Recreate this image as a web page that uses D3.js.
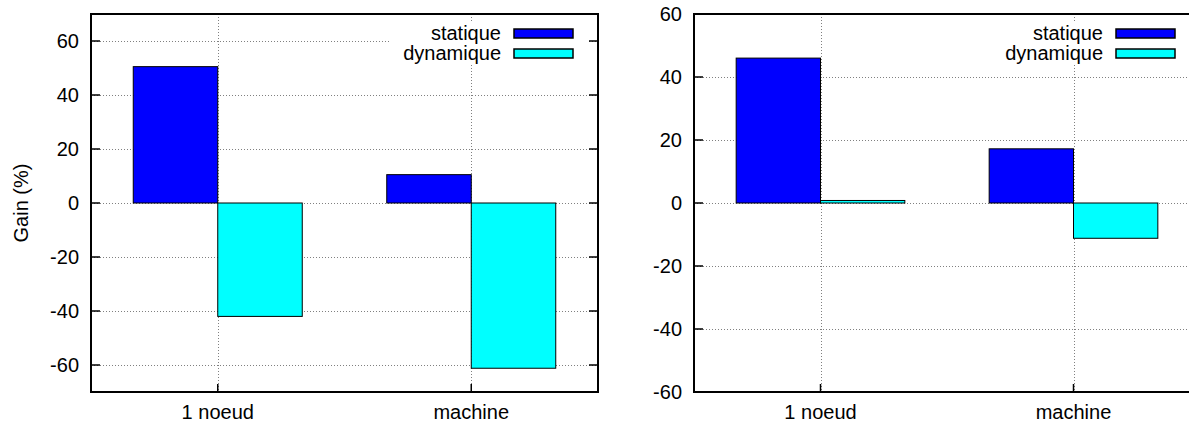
<!DOCTYPE html>
<html>
<head>
<meta charset="utf-8">
<script src="https://cdn.jsdelivr.net/npm/d3@7/dist/d3.min.js"></script>
<style>
  html, body { margin: 0; padding: 0; background: #fff; }
  svg { display: block; font-family: "Liberation Sans", Arial, sans-serif; }
</style>
</head>
<body>
<svg id="chart" width="1189" height="423"></svg>
<script>
const categories = ["1 noeud", "machine"];
const seriesNames = ["statique", "dynamique"];
const seriesColors = ["#0000ff", "#00ffff"];
const leftStatique = [50.5, 10.5];
const leftDynamique = [-42, -61.2];
const rightStatique = [46, 17.2];
const rightDynamique = [0.8, -11.2];
const leftTicks = [-60, -40, -20, 0, 20, 40, 60];
const rightTicks = [-60, -40, -20, 0, 20, 40, 60];

const svg = d3.select("#chart");

function panel(opts) {
  const g = svg.append("g");
  const x = d3.scaleLinear().domain([-0.5, categories.length - 0.5]).range([opts.x0, opts.x1]);
  const y = d3.scaleLinear().domain(opts.domain).range([opts.y1, opts.y0]);
  const bw = 1 / 3;
  const series = [opts.stat, opts.dyn];

  // grid
  const grid = g.append("g").attr("stroke", "#808080").attr("stroke-width", 1).attr("stroke-dasharray", "1,2");
  opts.ticks.forEach(t => {
    if (y(t) > opts.y0 + 1 && y(t) < opts.y1 - 1) {
      grid.append("line").attr("x1", opts.x0).attr("x2", opts.x1)
        .attr("y1", Math.round(y(t)) + 0.5).attr("y2", Math.round(y(t)) + 0.5);
    }
  });
  categories.forEach((c, i) => {
    grid.append("line").attr("x1", Math.round(x(i)) + 0.5).attr("x2", Math.round(x(i)) + 0.5)
      .attr("y1", opts.y0).attr("y2", opts.y1);
  });

  // bars
  series.forEach((vals, s) => {
    g.append("g").selectAll("rect").data(vals).join("rect")
      .attr("x", (d, i) => x(i - bw + s * bw))
      .attr("width", (d, i) => x(i + s * bw) - x(i - bw + s * bw))
      .attr("y", d => y(Math.max(0, d)))
      .attr("height", d => Math.abs(y(d) - y(0)))
      .attr("fill", seriesColors[s])
      .attr("stroke", "#000").attr("stroke-width", 1);
  });

  // ticks
  const tk = g.append("g").attr("stroke", "#000").attr("stroke-width", 1.5);
  opts.ticks.forEach(t => {
    tk.append("line").attr("x1", opts.x0).attr("x2", opts.x0 + 9).attr("y1", y(t)).attr("y2", y(t));
    tk.append("line").attr("x1", opts.x1).attr("x2", opts.x1 - 9).attr("y1", y(t)).attr("y2", y(t));
  });
  categories.forEach((c, i) => {
    tk.append("line").attr("x1", x(i)).attr("x2", x(i)).attr("y1", opts.y1).attr("y2", opts.y1 - 8);
  });

  // frame
  g.append("rect").attr("x", opts.x0).attr("y", opts.y0)
    .attr("width", opts.x1 - opts.x0).attr("height", opts.y1 - opts.y0)
    .attr("fill", "none").attr("stroke", "#000").attr("stroke-width", 2);

  // tick labels
  g.append("g").selectAll("text").data(opts.ticks).join("text")
    .attr("x", opts.x0 - 12).attr("y", d => y(d)).attr("dy", "0.35em")
    .attr("text-anchor", "end").attr("font-size", 20).attr("fill", "#000")
    .text(d => d);
  g.append("g").selectAll("text").data(categories).join("text")
    .attr("x", (d, i) => x(i)).attr("y", 419)
    .attr("text-anchor", "middle").attr("font-size", 20).attr("fill", "#000")
    .text(d => d);

  // legend
  const lg = g.append("g");
  lg.append("rect").attr("x", opts.x1 - 208).attr("y", 23).attr("width", 197).attr("height", 41).attr("fill", "#fff");
  seriesNames.forEach((n, s) => {
    const cy = 33.5 + s * 20;
    lg.append("rect").attr("x", opts.x1 - 84).attr("y", cy - 4.5).attr("width", 59).attr("height", 9)
      .attr("fill", seriesColors[s]).attr("stroke", "#000").attr("stroke-width", 1.5);
    lg.append("text").attr("x", opts.x1 - 97).attr("y", cy).attr("dy", "0.33em")
      .attr("text-anchor", "end").attr("font-size", 20).attr("fill", "#000").text(n);
  });

  if (opts.ylabel) {
    g.append("text").attr("transform", `translate(28,${(opts.y0 + opts.y1) / 2}) rotate(-90)`)
      .attr("text-anchor", "middle").attr("font-size", 20).attr("fill", "#000").text(opts.ylabel);
  }
}

panel({ x0: 91, x1: 598, y0: 14, y1: 392, domain: [-70, 70], ticks: leftTicks,
        stat: leftStatique, dyn: leftDynamique, ylabel: "Gain (%)" });
panel({ x0: 694, x1: 1200, y0: 14, y1: 392, domain: [-60, 60], ticks: rightTicks,
        stat: rightStatique, dyn: rightDynamique });
</script>
</body>
</html>
